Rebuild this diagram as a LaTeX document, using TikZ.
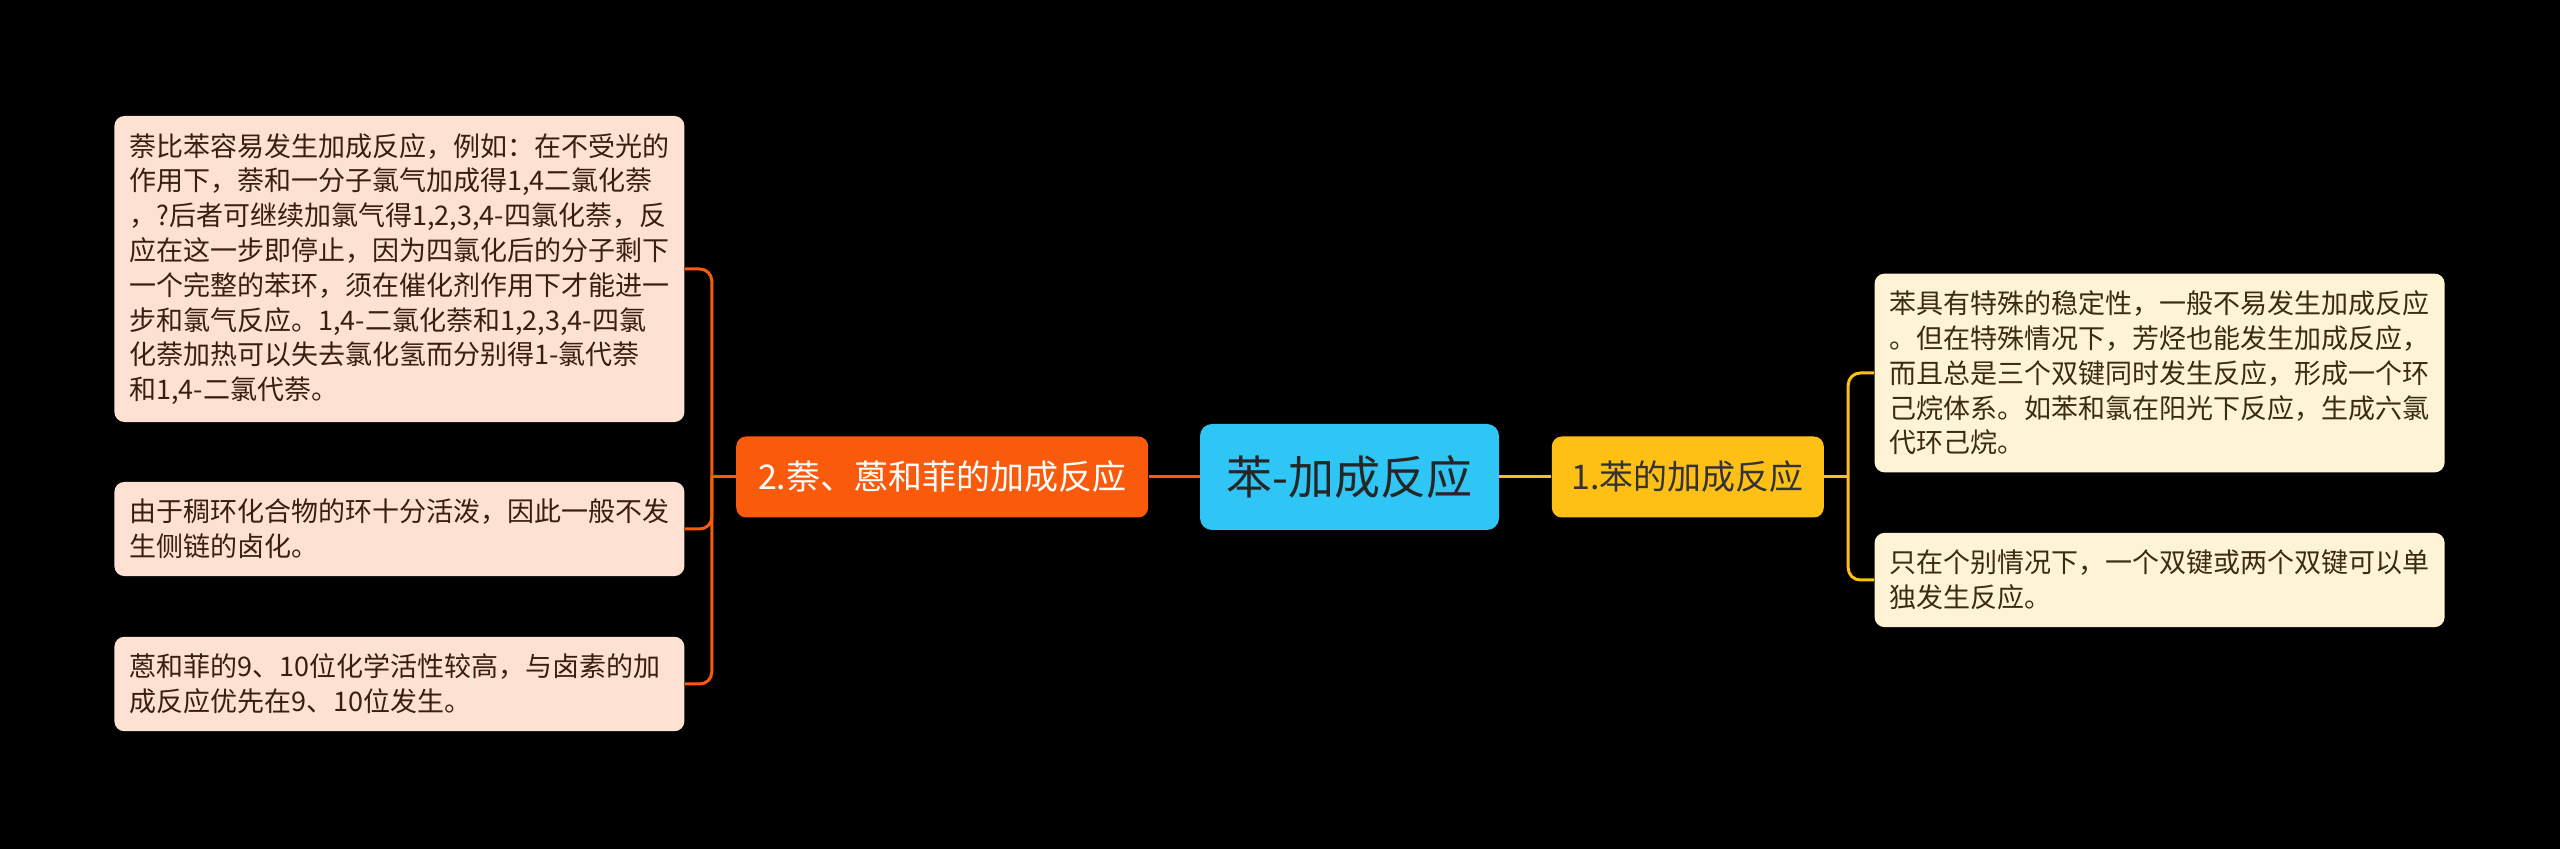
\documentclass[tikz,border=0pt]{standalone}
\usepackage{fontspec}
\setmainfont{Noto Sans CJK SC}
\usetikzlibrary{positioning}
\definecolor{rootblue}{HTML}{2FC5F5}
\definecolor{naphorange}{HTML}{FA5A0C}
\definecolor{benzyellow}{HTML}{FFC015}
\definecolor{peach}{HTML}{FDE1D3}
\definecolor{cream}{HTML}{FEF3D4}
\definecolor{leafbrown}{HTML}{3B1E10}
\definecolor{leafolive}{HTML}{3A2C10}

\begin{document}
\begin{tikzpicture}[
    x=0.5pt, y=-0.5pt,
    node distance=25.5pt,
    root/.style={rectangle, rounded corners=6pt, fill=rootblue, text=black!85, minimum width=149.5pt, minimum height=53pt, font=\fontsize{23pt}{28pt}\selectfont},
    topic/.style={rectangle, rounded corners=5pt, minimum height=40.5pt, font=\fontsize{17pt}{20pt}\selectfont},
    leaf/.style={rectangle, rounded corners=5pt, text width=270pt, inner xsep=7.5pt, inner ysep=8.6pt, align=left, font=\fontsize{13.5pt}{17.4pt}\selectfont},
    olink/.style={draw=naphorange, line width=1.5pt},
    ylink/.style={draw=benzyellow, line width=1.5pt},
]

% Background
\fill[black] (0,0) rectangle (2560,849);

% Nodes
\node[root] (root) at (1349.5,477) {苯-加成反应};
\node[topic, fill=naphorange, text=white, minimum width=206pt, left=25.5pt of root] (naph) {2.萘、蒽和菲的加成反应};
\node[topic, fill=benzyellow, text=black!80, minimum width=136pt, right=26pt of root] (benz) {1.苯的加成反应};

% Leaf nodes
\node[leaf, fill=peach, text=leafbrown, left=of naph, yshift=104pt] (naphA) {萘比苯容易发生加成反应，例如：在不受光的\\作用下，萘和一分子氯气加成得1,4二氯化萘\\，?后者可继续加氯气得1,2,3,4-四氯化萘，反\\应在这一步即停止，因为四氯化后的分子剩下\\一个完整的苯环，须在催化剂作用下才能进一\\步和氯气反应。1,4-二氯化萘和1,2,3,4-四氯\\化萘加热可以失去氯化氢而分别得1-氯代萘\\和1,4-二氯代萘。};
\node[leaf, fill=peach, text=leafbrown, left=of naph, yshift=-26pt] (naphB) {由于稠环化合物的环十分活泼，因此一般不发\\生侧链的卤化。};
\node[leaf, fill=peach, text=leafbrown, left=of naph, yshift=-103.5pt] (naphC) {蒽和菲的9、10位化学活性较高，与卤素的加\\成反应优先在9、10位发生。};
\node[leaf, fill=cream, text=leafolive, right=25pt of benz, yshift=52pt] (benzA) {苯具有特殊的稳定性，一般不易发生加成反应\\。但在特殊情况下，芳烃也能发生加成反应，\\而且总是三个双键同时发生反应，形成一个环\\己烷体系。如苯和氯在阳光下反应，生成六氯\\代环己烷。};
\node[leaf, fill=cream, text=leafolive, right=25pt of benz, yshift=-51.5pt] (benzB) {只在个别情况下，一个双键或两个双键可以单\\独发生反应。};

% Links
\coordinate[left=12pt of naph.west] (nbus);
\coordinate[right=12pt of benz.east] (bbus);
\draw[olink] (root) -- (naph);
\draw[ylink] (root) -- (benz);
\draw[olink] (naph.west) -- (nbus);
\draw[ylink] (benz.east) -- (bbus);
\draw[olink, rounded corners=6pt] (nbus) |- (naphA.east);
\draw[olink, rounded corners=6pt] (nbus) |- (naphB.east);
\draw[olink, rounded corners=6pt] (nbus) |- (naphC.east);
\draw[ylink, rounded corners=6pt] (bbus) |- (benzA.west);
\draw[ylink, rounded corners=6pt] (bbus) |- (benzB.west);

\end{tikzpicture}
\end{document}
